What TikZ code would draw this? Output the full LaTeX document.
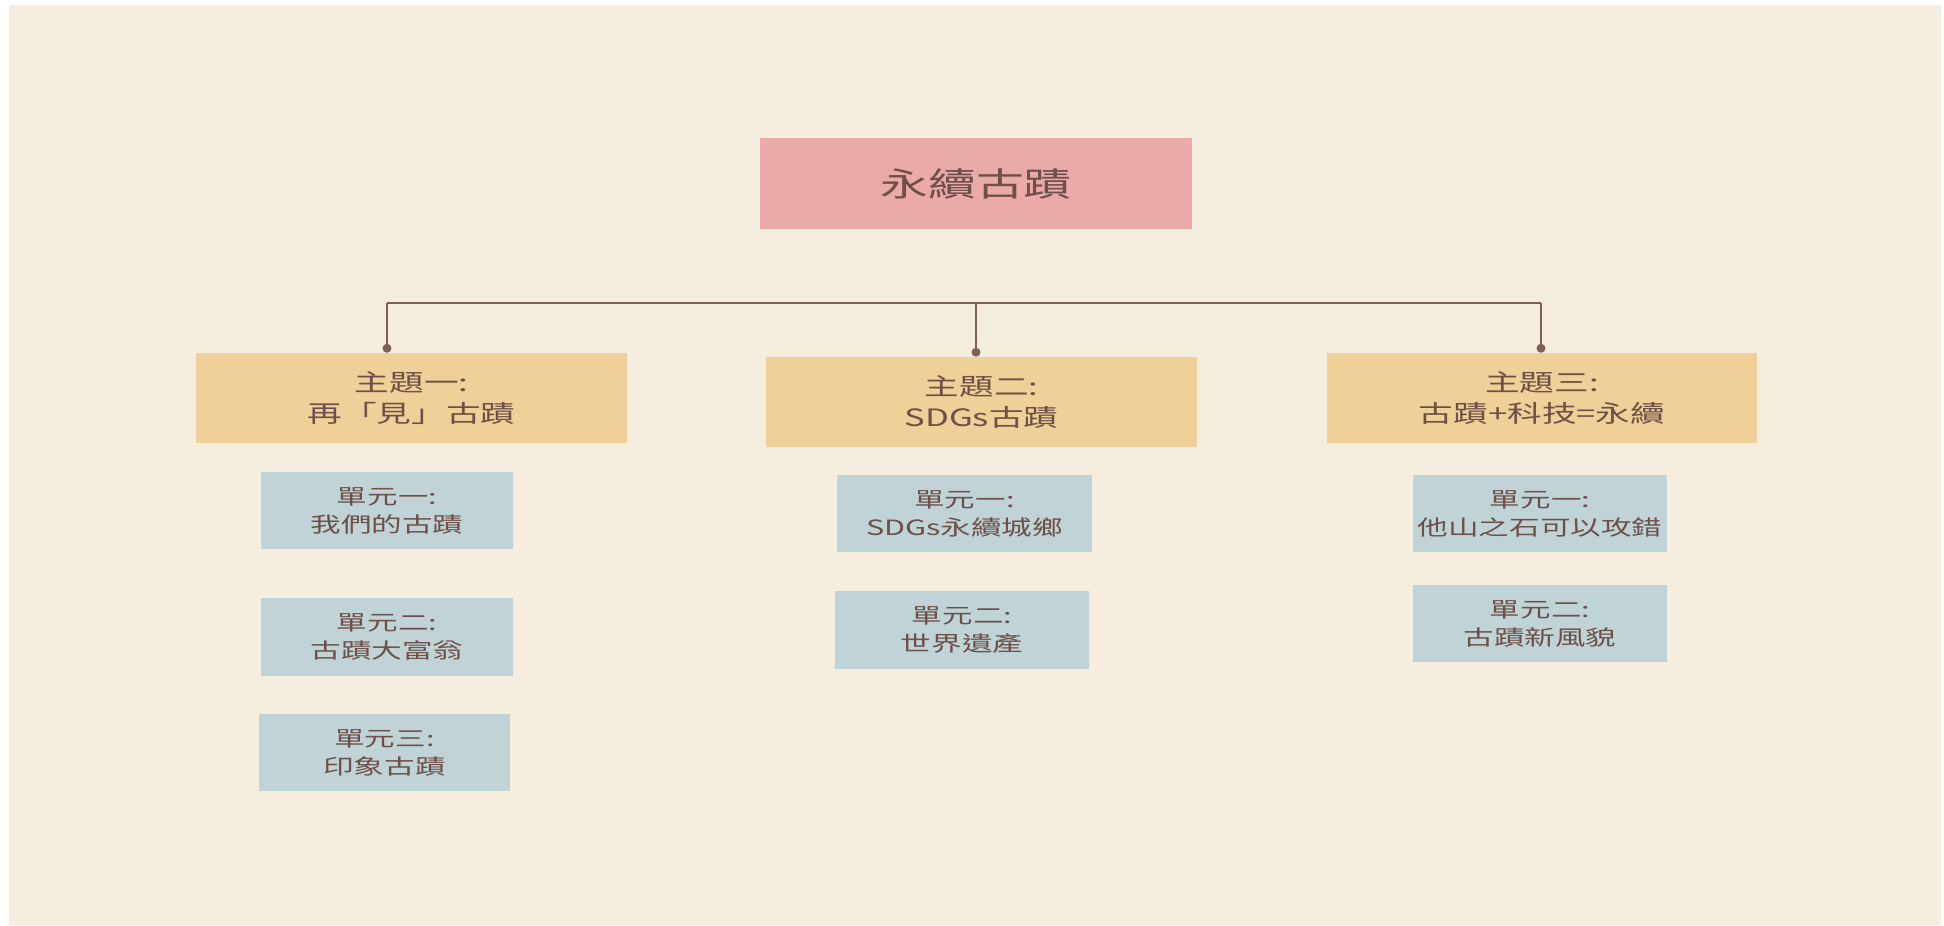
\documentclass[tikz,border=0pt]{standalone}
\usepackage{fontspec}
\usepackage{graphicx}
\setmainfont{Noto Sans CJK TC}
\usetikzlibrary{arrows.meta}

\definecolor{paper}{RGB}{245,237,222}
\definecolor{rosebox}{RGB}{234,170,168}
\definecolor{sandbox}{RGB}{239,208,152}
\definecolor{mistbox}{RGB}{192,212,216}
\definecolor{inkbrown}{RGB}{110,80,72}
\definecolor{linkbrown}{RGB}{125,95,88}

\newcommand{\wide}[1]{\scalebox{1.45}[1]{#1}}

\begin{document}
\begin{tikzpicture}[x=0.02cm,y=-0.02cm,
    mainbox/.style ={rectangle, fill=rosebox, text=inkbrown, inner sep=0pt,
      minimum width=8.64cm, minimum height=1.82cm, font=\fontsize{18.8}{22}\selectfont},
    themebox/.style ={rectangle, fill=sandbox, text=inkbrown, inner sep=0pt, align=center,
      minimum width=8.62cm, minimum height=1.80cm, font=\fontsize{13.6}{17.6}\selectfont},
    unitbox/.style ={rectangle, fill=mistbox, text=inkbrown, inner sep=0pt, align=center,
      minimum width=5.04cm, minimum height=1.56cm, font=\fontsize{12}{15.9}\selectfont},
    link/.style ={draw=linkbrown, line width=1.25pt}]
   \useasboundingbox (0,0) rectangle (1944,926);
   \fill[paper] (9,5) rectangle (1941,925);

   \node[mainbox] (root) at (976,183.5) {\wide{永續古蹟}};

   \node[themebox] (T1) at (411.5,398) {\wide{主題一:}\\\wide{再「見」古蹟}};
   \node[themebox] (T2) at (981.5,402) {\wide{主題二:}\\\wide{SDGs古蹟}};
   \node[themebox] (T3) at (1542,398)  {\wide{主題三:}\\\wide{古蹟+科技=永續}};

   \node[unitbox] (U11) at (387,510.5)   {\wide{單元一:}\\\wide{我們的古蹟}};
   \node[unitbox] (U12) at (387,637)     {\wide{單元二:}\\\wide{古蹟大富翁}};
   \node[unitbox] (U13) at (384.5,752.5) {\wide{單元三:}\\\wide{印象古蹟}};

   \node[unitbox, minimum width=5.1cm] (U21) at (964.5,513.5) {\wide{單元一:}\\\wide{SDGs永續城鄉}};
   \node[unitbox, minimum width=5.1cm] (U22) at (962,630)     {\wide{單元二:}\\\wide{世界遺產}};

   \node[unitbox, minimum width=5.08cm] (U31) at (1540,513.5) {\wide{單元一:}\\\wide{他山之石可以攻錯}};
   \node[unitbox, minimum width=5.08cm] (U32) at (1540,623.5) {\wide{單元二:}\\\wide{古蹟新風貌}};

   \coordinate (H1) at (387,303);
   \coordinate (H2) at (976,303);
   \coordinate (H3) at (1541,303);

   \draw[link] (H1) -- (H2) -- (H3);
   \draw[link, -{Circle[length=5pt]}] (H1) to (T1.north -| H1);
   \draw[link, -{Circle[length=5pt]}] (H2) to (T2.north -| H2);
   \draw[link, -{Circle[length=5pt]}] (H3) to (T3.north -| H3);
 \end{tikzpicture}
\end{document}
